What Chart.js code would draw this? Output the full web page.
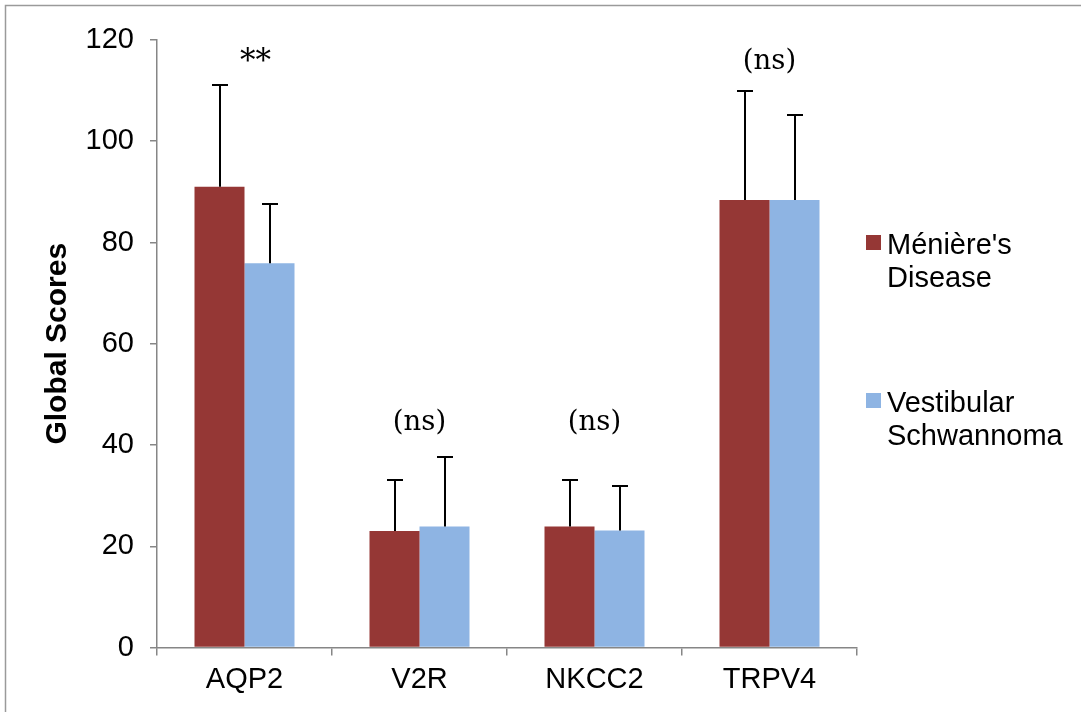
<!DOCTYPE html>
<html>
<head>
<meta charset="utf-8">
<script src="https://cdn.jsdelivr.net/npm/chart.js@4/dist/chart.umd.min.js"></script>
<style>
  html, body { margin: 0; padding: 0; background: #ffffff; }
  #wrap { width: 1081px; height: 712px; position: relative; }
</style>
</head>
<body>
<div id="wrap"><canvas id="c" width="1081" height="712"></canvas></div>
<script>
// ---- Data ----
const categories = ['AQP2', 'V2R', 'NKCC2', 'TRPV4'];
const seriesNames = ["Ménière's Disease", 'Vestibular Schwannoma'];
const legendLines = [["Ménière's", 'Disease'], ['Vestibular', 'Schwannoma']];
const meniereValues = [91.0, 23.0, 23.9, 88.4];
const meniereErrors = [20.2, 10.0, 9.2, 21.6];
const schwannomaValues = [75.9, 23.9, 23.1, 88.4];
const schwannomaErrors = [11.7, 13.8, 8.9, 16.8];
const significanceLabels = ['**', '(ns)', '(ns)', '(ns)'];
const significanceLevels = [114.3, 43.0, 43.0, 114.3];
const yTicksMin = 0, yTicksMax = 120, yTickStep = 20;

const RED = '#953735';
const BLUE = '#8EB4E3';
const AXIS = '#868686';
const SANS = '"Liberation Sans", Arial, sans-serif';
const SERIF = '"DejaVu Serif", serif';

const errorBarPlugin = {
  id: 'errorBars',
  afterDatasetsDraw(chart) {
    const ctx = chart.ctx;
    const y = chart.scales.y;
    ctx.save();
    ctx.strokeStyle = '#000';
    ctx.lineWidth = 2;
    chart.data.datasets.forEach((ds, di) => {
      const meta = chart.getDatasetMeta(di);
      meta.data.forEach((bar, i) => {
        const top = y.getPixelForValue(ds.data[i] + ds.errors[i]);
        const base = y.getPixelForValue(ds.data[i]);
        const x = Math.round(bar.x);
        ctx.beginPath();
        ctx.moveTo(x, base);
        ctx.lineTo(x, top);
        ctx.moveTo(x - 8, Math.round(top));
        ctx.lineTo(x + 8, Math.round(top));
        ctx.stroke();
      });
    });
    ctx.restore();
  }
};

const annotationPlugin = {
  id: 'sigLabels',
  afterDatasetsDraw(chart) {
    const ctx = chart.ctx;
    const xs = chart.scales.x, ys = chart.scales.y;
    ctx.save();
    ctx.fillStyle = '#000';
    ctx.textAlign = 'center';
    ctx.textBaseline = 'alphabetic';
    significanceLabels.forEach((t, i) => {
      const isStar = t.indexOf('*') >= 0;
      ctx.font = (isStar ? '31px ' : '27.5px ') + SERIF;
      const nudge = isStar ? 11 : 0;   // text box in the original sits slightly right
      ctx.fillText(t, xs.getPixelForValue(i) + nudge, ys.getPixelForValue(significanceLevels[i]) + (isStar ? 2 : 0));
    });
    ctx.restore();
  }
};

const legendPlugin = {
  id: 'sideLegend',
  afterDraw(chart) {
    const ctx = chart.ctx;
    const left = chart.chartArea.right + 9;
    const tops = [235, 393];
    ctx.save();
    chart.data.datasets.forEach((ds, di) => {
      ctx.fillStyle = ds.backgroundColor;
      ctx.fillRect(left, tops[di], 15, 15);
      ctx.fillStyle = '#000';
      ctx.font = '29px ' + SANS;
      ctx.textAlign = 'left';
      ctx.textBaseline = 'alphabetic';
      legendLines[di].forEach((line, li) => {
        ctx.fillText(line, left + 21, tops[di] + 19 + li * 33);
      });
    });
    ctx.restore();
  }
};

const framePlugin = {
  id: 'frame',
  beforeDraw(chart) {
    const ctx = chart.ctx;
    ctx.save();
    ctx.fillStyle = '#fff';
    ctx.fillRect(0, 0, chart.width, chart.height);
    ctx.strokeStyle = '#9a9a9a';
    ctx.lineWidth = 1.5;
    ctx.strokeRect(5.5, 5.5, chart.width + 20, chart.height + 20);
    ctx.restore();
  }
};

new Chart(document.getElementById('c'), {
  type: 'bar',
  data: {
    labels: categories,
    datasets: [
      { label: seriesNames[0], data: meniereValues, errors: meniereErrors, backgroundColor: RED,
        barPercentage: 1.0, categoryPercentage: 100 / 175 },
      { label: seriesNames[1], data: schwannomaValues, errors: schwannomaErrors, backgroundColor: BLUE,
        barPercentage: 1.0, categoryPercentage: 100 / 175 }
    ]
  },
  options: {
    responsive: false,
    devicePixelRatio: 1,
    animation: false,
    layout: { padding: { top: 40, right: 224, bottom: 0, left: 0 } },
    plugins: { legend: { display: false }, tooltip: { enabled: false } },
    scales: {
      x: {
        type: 'category',
        offset: true,
        grid: { offset: true, drawOnChartArea: false, drawTicks: true, tickLength: 8, color: AXIS, lineWidth: 1.5 },
        border: { display: true, color: AXIS, width: 1.5 },
        ticks: { color: '#000', font: { family: SANS, size: 29 }, padding: 7, maxRotation: 0, autoSkip: false },
        afterFit(s) { s.height = 64.5; }
      },
      y: {
        min: yTicksMin,
        max: yTicksMax,
        grid: { drawOnChartArea: false, drawTicks: true, tickLength: 7, color: AXIS, lineWidth: 1.5 },
        border: { display: true, color: AXIS, width: 1.5 },
        ticks: { stepSize: yTickStep, color: '#000', font: { family: SANS, size: 29 }, padding: 16 },
        title: { display: true, text: 'Global Scores', color: '#000',
                 font: { family: SANS, size: 30, weight: 'bold' }, padding: { top: 40, bottom: 0 } },
        afterFit(s) { s.width = 157; }
      }
    }
  },
  plugins: [framePlugin, errorBarPlugin, annotationPlugin, legendPlugin]
});
</script>
</body>
</html>
